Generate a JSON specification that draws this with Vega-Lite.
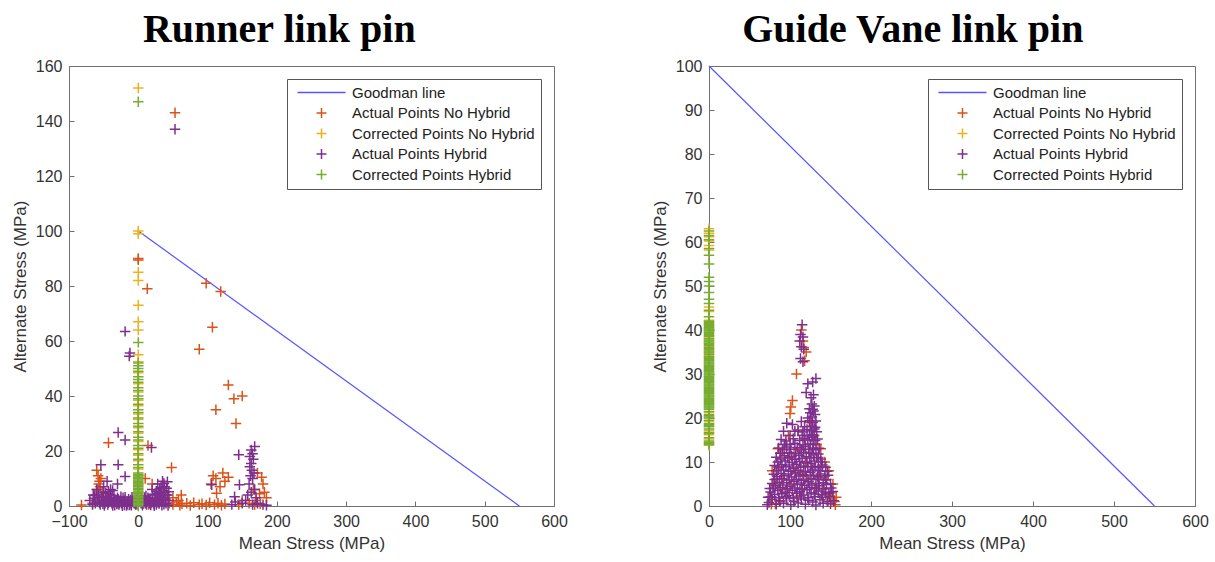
{
"$schema":"https://vega.github.io/schema/vega-lite/v6.json",
"padding":{"left":10,"top":9,"right":2,"bottom":2},
"background":"white",
"config":{
 "font":"Liberation Sans",
 "view":{"stroke":"#707070","strokeWidth":1},
 "axis":{"grid":false,"domainColor":"#707070","tickColor":"#707070","tickSize":-5,"labelColor":"#333333","titleColor":"#333333","labelFontSize":16,"titleFontSize":17,"titleFontWeight":"normal","labelFont":"Liberation Sans","titleFont":"Liberation Sans","labelPadding":12,"titlePadding":6,"labelFlush":false},
 "legend":{"orient":"top-right","offset":13,"title":null,"labelFont":"Liberation Sans","labelFontSize":15,"labelColor":"#222222","labelLimit":400,"symbolSize":100,"symbolStrokeWidth":1.5,"padding":6,"strokeColor":"#555555","fillColor":"white","rowPadding":3.5,"labelOffset":23,"symbolOffset":21}
},
"spacing":82,
"resolve":{"scale":{"color":"independent"},"legend":{"color":"independent"}},
"hconcat":[
{
 "width":485,"height":440,
 "title":{"text":"Runner link pin","font":"Liberation Serif","fontSize":40,"fontWeight":"bold","color":"#000000","frame":"bounds","anchor":"middle","offset":8,"dx":-10},
 "data":{"values":[
{"s":"L","x":0,"y":100},{"s":"L","x":550,"y":0},
{"s":"A","x":53,"y":143},{"s":"A","x":98,"y":81},{"s":"A","x":119,"y":78},{"s":"A","x":13,"y":79},{"s":"A","x":107,"y":65},{"s":"A","x":88,"y":57},{"s":"A","x":130,"y":44},{"s":"A","x":138,"y":39},{"s":"A","x":150,"y":40},{"s":"A","x":112,"y":35},{"s":"A","x":141,"y":30},{"s":"A","x":-43,"y":23},{"s":"A","x":14,"y":22},{"s":"A","x":48,"y":14},{"s":"A","x":-82,"y":0.4},{"s":"A","x":0,"y":90},{"s":"A","x":0,"y":89.5},
{"s":"A","x":-60,"y":13},{"s":"A","x":-58,"y":11},{"s":"A","x":-56,"y":9},{"s":"A","x":-57,"y":8},{"s":"A","x":-55,"y":7},{"s":"A","x":-59,"y":6},{"s":"A","x":-52,"y":5},{"s":"A","x":-54,"y":10},{"s":"A","x":-61,"y":4},{"s":"A","x":-50,"y":3},{"s":"A","x":-63,"y":2},{"s":"A","x":-66,"y":1},
{"s":"A","x":45,"y":1},{"s":"A","x":50,"y":0.5},{"s":"A","x":55,"y":1.5},{"s":"A","x":60,"y":0.3},{"s":"A","x":63,"y":0.8},{"s":"A","x":70,"y":1},{"s":"A","x":75,"y":0.2},{"s":"A","x":80,"y":1.2},{"s":"A","x":88,"y":0.5},{"s":"A","x":92,"y":0.8},{"s":"A","x":98,"y":0.4},{"s":"A","x":103,"y":1.2},{"s":"A","x":110,"y":0.5},{"s":"A","x":115,"y":1},{"s":"A","x":120,"y":0.3},{"s":"A","x":125,"y":0.7},{"s":"A","x":50,"y":3},{"s":"A","x":58,"y":2},{"s":"A","x":62,"y":4},{"s":"A","x":20,"y":8},{"s":"A","x":10,"y":10},{"s":"A","x":35,"y":2},{"s":"A","x":40,"y":4},
{"s":"A","x":108,"y":11},{"s":"A","x":112,"y":10},{"s":"A","x":122,"y":12},{"s":"A","x":130,"y":10.5},{"s":"A","x":118,"y":7},{"s":"A","x":113,"y":4.6},{"s":"A","x":125,"y":9},{"s":"A","x":105,"y":8},
{"s":"A","x":178,"y":10.5},{"s":"A","x":180,"y":8},{"s":"A","x":175,"y":4.5},{"s":"A","x":166,"y":6},{"s":"A","x":185,"y":3},{"s":"A","x":170,"y":2},{"s":"A","x":160,"y":1},{"s":"A","x":172,"y":12},{"s":"A","x":182,"y":5},{"s":"A","x":168,"y":0.5},{"s":"A","x":176,"y":0.8},{"s":"A","x":150,"y":2},{"s":"A","x":145,"y":0.5},
{"s":"A","x":-45,"y":3},{"s":"A","x":-30,"y":1},{"s":"A","x":-20,"y":2},{"s":"A","x":-10,"y":0.5},{"s":"A","x":25,"y":3},{"s":"A","x":30,"y":1},{"s":"A","x":38,"y":5},{"s":"A","x":15,"y":0.5},
{"s":"C","x":0,"y":152},{"s":"C","x":0,"y":100},{"s":"C","x":0,"y":99},{"s":"C","x":0,"y":85},{"s":"C","x":0,"y":82},{"s":"C","x":0,"y":73},{"s":"C","x":0,"y":67},{"s":"C","x":0,"y":64},{"s":"C","x":0,"y":55},{"s":"C","x":0,"y":52.5},{"s":"C","x":0,"y":48.5},{"s":"C","x":0,"y":44.5},{"s":"C","x":0,"y":41.5},{"s":"C","x":0,"y":38.5},{"s":"C","x":0,"y":36.5},{"s":"C","x":0,"y":33.5},{"s":"C","x":0,"y":31.5},{"s":"C","x":0,"y":28.5},{"s":"C","x":0,"y":26.5},{"s":"C","x":0,"y":23.5},{"s":"C","x":0,"y":20.5},{"s":"C","x":0,"y":18.5},{"s":"C","x":0,"y":16.5},{"s":"C","x":0,"y":13.5},{"s":"C","x":0,"y":11},{"s":"C","x":0,"y":8},{"s":"C","x":0,"y":5},{"s":"C","x":0,"y":3},
{"s":"H","x":53,"y":137},{"s":"H","x":-19,"y":63.5},{"s":"H","x":-12,"y":55.6},{"s":"H","x":-13,"y":54.5},{"s":"H","x":-29,"y":26.7},{"s":"H","x":-19,"y":24},{"s":"H","x":19,"y":21.3},{"s":"H","x":-54,"y":15},{"s":"H","x":-29,"y":15},{"s":"H","x":-19,"y":10.7},{"s":"H","x":145,"y":18.6},{"s":"H","x":106,"y":7.7},{"s":"H","x":146,"y":7.7},{"s":"H","x":139,"y":3.4},{"s":"H","x":-30,"y":8},{"s":"H","x":-65,"y":4},{"s":"H","x":-70,"y":2},
{"s":"H","x":168,"y":21.6},{"s":"H","x":163,"y":20.4},{"s":"H","x":165,"y":19},{"s":"H","x":161,"y":18},{"s":"H","x":166,"y":17},{"s":"H","x":163,"y":15.5},{"s":"H","x":161,"y":14.3},{"s":"H","x":164,"y":13},{"s":"H","x":167,"y":12},{"s":"H","x":162,"y":11},{"s":"H","x":165,"y":10},{"s":"H","x":160,"y":8},{"s":"H","x":168,"y":6},{"s":"H","x":163,"y":5},{"s":"H","x":158,"y":4},{"s":"H","x":170,"y":3},{"s":"H","x":155,"y":2},{"s":"H","x":150,"y":1},{"s":"H","x":172,"y":1},{"s":"H","x":165,"y":0.5},{"s":"H","x":180,"y":0.5},
{"s":"H","x":-62,"y":1},{"s":"H","x":-58,"y":3},{"s":"H","x":-55,"y":0.5},{"s":"H","x":-52,"y":2},{"s":"H","x":-50,"y":5},{"s":"H","x":-48,"y":1},{"s":"H","x":-46,"y":3},{"s":"H","x":-44,"y":0.5},{"s":"H","x":-42,"y":2},{"s":"H","x":-40,"y":4},{"s":"H","x":-38,"y":1},{"s":"H","x":-36,"y":2.5},{"s":"H","x":-34,"y":0.3},{"s":"H","x":-32,"y":1.5},{"s":"H","x":-30,"y":3},{"s":"H","x":-28,"y":0.5},{"s":"H","x":-26,"y":2},{"s":"H","x":-24,"y":1},{"s":"H","x":-22,"y":3},{"s":"H","x":-20,"y":0.4},{"s":"H","x":-18,"y":1.8},{"s":"H","x":-16,"y":0.6},{"s":"H","x":-14,"y":2.5},{"s":"H","x":-12,"y":1},{"s":"H","x":-10,"y":0.3},{"s":"H","x":-8,"y":2},{"s":"H","x":-6,"y":1},{"s":"H","x":-4,"y":0.5},{"s":"H","x":4,"y":1},{"s":"H","x":6,"y":0.3},{"s":"H","x":8,"y":2},{"s":"H","x":10,"y":1},{"s":"H","x":12,"y":0.5},{"s":"H","x":14,"y":3},{"s":"H","x":16,"y":1},{"s":"H","x":18,"y":0.4},{"s":"H","x":20,"y":2},{"s":"H","x":22,"y":1},{"s":"H","x":24,"y":4},{"s":"H","x":26,"y":0.5},{"s":"H","x":28,"y":2},{"s":"H","x":30,"y":1},{"s":"H","x":32,"y":5},{"s":"H","x":34,"y":0.3},{"s":"H","x":36,"y":3},{"s":"H","x":38,"y":7},{"s":"H","x":40,"y":1},{"s":"H","x":42,"y":4},{"s":"H","x":44,"y":2},{"s":"H","x":-50,"y":7},{"s":"H","x":-45,"y":9},{"s":"H","x":-60,"y":6},{"s":"H","x":-40,"y":6},{"s":"H","x":28,"y":8},{"s":"H","x":35,"y":9},{"s":"H","x":20,"y":6},{"s":"H","x":135,"y":0.5},{"s":"H","x":140,"y":1.5},{"s":"H","x":185,"y":0.3},{"s":"H","x":-66,"y":0.5},{"s":"H","x":-56,"y":1.2},{"s":"H","x":-47,"y":2.2},{"s":"H","x":-37,"y":0.2},{"s":"H","x":-27,"y":1.1},{"s":"H","x":-17,"y":0.2},{"s":"H","x":-7,"y":1.4},{"s":"H","x":7,"y":0.9},{"s":"H","x":17,"y":2.6},{"s":"H","x":27,"y":1.3},{"s":"H","x":37,"y":0.6},{"s":"H","x":43,"y":0.2},{"s":"H","x":33,"y":2.4},{"s":"H","x":23,"y":0.1},{"s":"H","x":13,"y":1.8},{"s":"H","x":-3,"y":2.3},{"s":"H","x":-23,"y":0.1},{"s":"H","x":-33,"y":2.1},{"s":"H","x":-43,"y":1.3},{"s":"H","x":-53,"y":3.5},
{"s":"H","x":-64,"y":2.8},{"s":"H","x":-49,"y":0.2},{"s":"H","x":-41,"y":3.1},{"s":"H","x":-35,"y":1.2},{"s":"H","x":-25,"y":3.4},{"s":"H","x":-15,"y":1.6},{"s":"H","x":-9,"y":3.2},{"s":"H","x":5,"y":2.7},{"s":"H","x":11,"y":3.6},{"s":"H","x":19,"y":1.3},{"s":"H","x":25,"y":2.2},{"s":"H","x":31,"y":3.3},{"s":"H","x":39,"y":2.5},{"s":"H","x":41,"y":6.5},{"s":"H","x":36,"y":5.5},
{"s":"H","x":-63,"y":3.8},{"s":"H","x":-59,"y":1.8},{"s":"H","x":-57,"y":4.2},{"s":"H","x":-51,"y":0.8},{"s":"H","x":-47,"y":4.6},{"s":"H","x":-45,"y":1.7},{"s":"H","x":-43,"y":5.2},{"s":"H","x":-39,"y":2.8},{"s":"H","x":-37,"y":5.6},{"s":"H","x":-35,"y":3.8},{"s":"H","x":-31,"y":0.7},{"s":"H","x":-29,"y":2.4},{"s":"H","x":-21,"y":1.6},{"s":"H","x":-19,"y":3.2},{"s":"H","x":-13,"y":0.4},{"s":"H","x":-11,"y":2.2},{"s":"H","x":-5,"y":1.9},{"s":"H","x":-2,"y":0.6},{"s":"H","x":3,"y":2.1},{"s":"H","x":9,"y":3.1},{"s":"H","x":15,"y":2.1},{"s":"H","x":21,"y":4.2},{"s":"H","x":29,"y":4.6},{"s":"H","x":33,"y":6.8},{"s":"H","x":37,"y":8.2},{"s":"H","x":39,"y":4.1},{"s":"H","x":42,"y":8.8},{"s":"H","x":44,"y":5.2},{"s":"H","x":31,"y":6.2},{"s":"H","x":26,"y":5.4},
{"s":"G","x":0,"y":147},{"s":"G","x":0,"y":59.5},{"s":"G","x":0,"y":52},{"s":"G","x":0,"y":51},{"s":"G","x":0,"y":50},{"s":"G","x":0,"y":49},{"s":"G","x":0,"y":47},{"s":"G","x":0,"y":46},{"s":"G","x":0,"y":45},{"s":"G","x":0,"y":43},{"s":"G","x":0,"y":42},{"s":"G","x":0,"y":40},{"s":"G","x":0,"y":39},{"s":"G","x":0,"y":37},{"s":"G","x":0,"y":35},{"s":"G","x":0,"y":34},{"s":"G","x":0,"y":32},{"s":"G","x":0,"y":30},{"s":"G","x":0,"y":29},{"s":"G","x":0,"y":27},{"s":"G","x":0,"y":25},{"s":"G","x":0,"y":24},{"s":"G","x":0,"y":22},{"s":"G","x":0,"y":21},{"s":"G","x":0,"y":19},{"s":"G","x":0,"y":17},{"s":"G","x":0,"y":15},{"s":"G","x":0,"y":14},{"s":"G","x":0,"y":12},{"s":"G","x":0,"y":11.5},{"s":"G","x":0,"y":11},{"s":"G","x":0,"y":10.5},{"s":"G","x":0,"y":10},{"s":"G","x":0,"y":9.5},{"s":"G","x":0,"y":9},{"s":"G","x":0,"y":8.5},{"s":"G","x":0,"y":8},{"s":"G","x":0,"y":7.5},{"s":"G","x":0,"y":7},{"s":"G","x":0,"y":6.5},{"s":"G","x":0,"y":6},{"s":"G","x":0,"y":5.5},{"s":"G","x":0,"y":5},{"s":"G","x":0,"y":4.5},{"s":"G","x":0,"y":4},{"s":"G","x":0,"y":3.5},{"s":"G","x":0,"y":3},{"s":"G","x":0,"y":2.5},{"s":"G","x":0,"y":2},{"s":"G","x":0,"y":1.5},{"s":"G","x":0,"y":1},{"s":"G","x":0,"y":0.5},{"s":"G","x":0,"y":0}
 ]},
 "layer":[
  {"transform":[{"filter":"datum.s=='L'"}],"mark":{"type":"line","strokeWidth":1.2},
   "encoding":{"x":{"field":"x","type":"quantitative","scale":{"domain":[-100,600],"nice":false},"axis":{"title":"Mean Stress (MPa)","values":[-100,0,100,200,300,400,500,600]}},
    "y":{"field":"y","type":"quantitative","scale":{"domain":[0,160],"nice":false},"axis":{"title":"Alternate Stress (MPa)","values":[0,20,40,60,80,100,120,140,160]}},
    "color":{"field":"s","type":"nominal","scale":{"domain":["L","A","C","H","G"],"range":["#5555ff","#D95319","#EDB120","#7E2F8E","#77AC30"]},
     "legend":{"labelExpr":"{'L':'Goodman line','A':'Actual Points No Hybrid','C':'Corrected Points No Hybrid','H':'Actual Points Hybrid','G':'Corrected Points Hybrid'}[datum.value]",
      "encode":{"symbols":{"update":{"shape":{"signal":"datum.value=='L' ? 'M-4.8,0H4.8' : 'M-1,0H1M0,-1V1'"},"fill":{"value":"transparent"},"strokeWidth":{"value":1.5},"opacity":{"value":1}}}}}}}},
  {"transform":[{"filter":"datum.s!='L'"}],"mark":{"type":"point","shape":"M-1,0H1M0,-1V1","filled":false,"size":110,"strokeWidth":1.5,"opacity":1},
   "encoding":{"x":{"field":"x","type":"quantitative"},"y":{"field":"y","type":"quantitative"},
    "color":{"field":"s","type":"nominal"}}}
 ]
},
{
 "width":486,"height":440,
 "title":{"text":"Guide Vane link pin","font":"Liberation Serif","fontSize":40,"fontWeight":"bold","color":"#000000","frame":"bounds","anchor":"middle","offset":8,"dx":-17},
 "data":{"values":[
{"s":"L","x":0,"y":100},{"s":"L","x":550,"y":0},
{"s":"A","x":100,"y":21},{"s":"A","x":103,"y":24},{"s":"A","x":101,"y":22.5},{"s":"A","x":108,"y":30},{"s":"A","x":118,"y":33},{"s":"A","x":117,"y":36},{"s":"A","x":116,"y":37.5},{"s":"A","x":114,"y":40},{"s":"A","x":120,"y":35},{"s":"A","x":75,"y":2},{"s":"A","x":80,"y":5},{"s":"A","x":85,"y":9},{"s":"A","x":90,"y":12},{"s":"A","x":95,"y":14},{"s":"A","x":99,"y":11},{"s":"A","x":106,"y":8},{"s":"A","x":112,"y":13},{"s":"A","x":118,"y":15},{"s":"A","x":124,"y":12},{"s":"A","x":130,"y":16},{"s":"A","x":135,"y":11},{"s":"A","x":140,"y":9},{"s":"A","x":145,"y":6},{"s":"A","x":150,"y":3},{"s":"A","x":155,"y":1},{"s":"A","x":157,"y":2},{"s":"A","x":153,"y":5},{"s":"A","x":148,"y":8},{"s":"A","x":143,"y":10},{"s":"A","x":138,"y":13},{"s":"A","x":133,"y":14},{"s":"A","x":127,"y":9},{"s":"A","x":122,"y":6},{"s":"A","x":115,"y":4},{"s":"A","x":109,"y":2},{"s":"A","x":102,"y":5},{"s":"A","x":96,"y":3},{"s":"A","x":88,"y":1},{"s":"A","x":82,"y":0.5},{"s":"A","x":78,"y":8},{"s":"A","x":92,"y":6},{"s":"A","x":110,"y":17},{"s":"A","x":105,"y":12},{"s":"A","x":125,"y":19},{"s":"A","x":140,"y":4},{"s":"A","x":147,"y":1},{"s":"A","x":98,"y":16},{"s":"A","x":85,"y":13},{"s":"A","x":156,"y":0.3},{"s":"A","x":152,"y":1.8},{"s":"A","x":144,"y":2.5},{"s":"A","x":136,"y":6.5},{"s":"A","x":131,"y":4.2},{"s":"A","x":119,"y":10},{"s":"A","x":113,"y":7.5},{"s":"A","x":91,"y":3.8},{"s":"A","x":84,"y":6.2},{"s":"A","x":77,"y":0.4},
{"s":"C","x":0,"y":63},{"s":"C","x":0,"y":62},{"s":"C","x":0,"y":61.2},{"s":"C","x":0,"y":60.2},{"s":"C","x":0,"y":59.2},{"s":"C","x":0,"y":58.2},{"s":"C","x":0,"y":45.2},{"s":"C","x":0,"y":44.2},{"s":"C","x":0,"y":42.2},{"s":"C","x":0,"y":40.2},{"s":"C","x":0,"y":38.2},{"s":"C","x":0,"y":36.2},{"s":"C","x":0,"y":34.2},{"s":"C","x":0,"y":21.2},{"s":"C","x":0,"y":19.2},{"s":"C","x":0,"y":17.2},{"s":"C","x":0,"y":16.2},{"s":"C","x":0,"y":15.2},{"s":"C","x":0,"y":13.8},
{"s":"H","x":74,"y":0.8},{"s":"H","x":78,"y":1.5},{"s":"H","x":83,"y":0.4},{"s":"H","x":87,"y":1.2},{"s":"H","x":92,"y":0.6},{"s":"H","x":96,"y":1.8},{"s":"H","x":101,"y":0.3},{"s":"H","x":105,"y":1.1},{"s":"H","x":110,"y":0.7},{"s":"H","x":114,"y":1.6},{"s":"H","x":119,"y":0.4},{"s":"H","x":123,"y":1.3},{"s":"H","x":128,"y":0.9},{"s":"H","x":132,"y":0.2},{"s":"H","x":137,"y":1.4},{"s":"H","x":141,"y":0.6},{"s":"H","x":146,"y":1.0},{"s":"H","x":150,"y":0.5},{"s":"H","x":154,"y":1.2},
{"s":"H","x":76,"y":3.2},{"s":"H","x":81,"y":2.6},{"s":"H","x":85,"y":3.5},{"s":"H","x":90,"y":2.8},{"s":"H","x":94,"y":3.1},{"s":"H","x":99,"y":2.4},{"s":"H","x":103,"y":3.6},{"s":"H","x":108,"y":2.9},{"s":"H","x":112,"y":3.3},{"s":"H","x":117,"y":2.5},{"s":"H","x":121,"y":3.7},{"s":"H","x":126,"y":3.0},{"s":"H","x":130,"y":2.7},{"s":"H","x":135,"y":3.4},{"s":"H","x":139,"y":2.6},{"s":"H","x":144,"y":3.1},{"s":"H","x":148,"y":2.8},{"s":"H","x":153,"y":3.3},
{"s":"H","x":78,"y":5.1},{"s":"H","x":82,"y":4.6},{"s":"H","x":87,"y":5.4},{"s":"H","x":91,"y":4.8},{"s":"H","x":96,"y":5.3},{"s":"H","x":100,"y":4.5},{"s":"H","x":105,"y":5.6},{"s":"H","x":109,"y":4.9},{"s":"H","x":114,"y":5.2},{"s":"H","x":118,"y":4.7},{"s":"H","x":123,"y":5.5},{"s":"H","x":127,"y":4.8},{"s":"H","x":132,"y":5.1},{"s":"H","x":136,"y":4.6},{"s":"H","x":141,"y":5.3},{"s":"H","x":145,"y":4.9},{"s":"H","x":150,"y":5.0},
{"s":"H","x":80,"y":7.2},{"s":"H","x":84,"y":6.7},{"s":"H","x":89,"y":7.4},{"s":"H","x":93,"y":6.9},{"s":"H","x":98,"y":7.3},{"s":"H","x":102,"y":6.6},{"s":"H","x":107,"y":7.5},{"s":"H","x":111,"y":6.8},{"s":"H","x":116,"y":7.1},{"s":"H","x":120,"y":6.9},{"s":"H","x":125,"y":7.6},{"s":"H","x":129,"y":7.0},{"s":"H","x":134,"y":6.7},{"s":"H","x":138,"y":7.3},{"s":"H","x":143,"y":6.8},{"s":"H","x":147,"y":7.0},
{"s":"H","x":81,"y":9.2},{"s":"H","x":86,"y":8.7},{"s":"H","x":90,"y":9.4},{"s":"H","x":95,"y":8.9},{"s":"H","x":99,"y":9.3},{"s":"H","x":104,"y":8.6},{"s":"H","x":108,"y":9.5},{"s":"H","x":113,"y":8.8},{"s":"H","x":117,"y":9.1},{"s":"H","x":122,"y":8.9},{"s":"H","x":126,"y":9.6},{"s":"H","x":131,"y":9.0},{"s":"H","x":135,"y":8.7},{"s":"H","x":140,"y":9.3},{"s":"H","x":144,"y":8.8},
{"s":"H","x":83,"y":11.1},{"s":"H","x":88,"y":10.7},{"s":"H","x":93,"y":11.4},{"s":"H","x":97,"y":10.9},{"s":"H","x":102,"y":11.3},{"s":"H","x":106,"y":10.6},{"s":"H","x":111,"y":11.5},{"s":"H","x":115,"y":10.8},{"s":"H","x":120,"y":11.2},{"s":"H","x":124,"y":10.9},{"s":"H","x":129,"y":11.6},{"s":"H","x":133,"y":11.0},{"s":"H","x":138,"y":10.7},
{"s":"H","x":86,"y":13.2},{"s":"H","x":91,"y":12.8},{"s":"H","x":96,"y":13.4},{"s":"H","x":101,"y":12.9},{"s":"H","x":109,"y":13.3},{"s":"H","x":114,"y":12.7},{"s":"H","x":119,"y":13.5},{"s":"H","x":123,"y":12.9},{"s":"H","x":128,"y":13.2},{"s":"H","x":132,"y":12.8},{"s":"H","x":136,"y":13.1},
{"s":"H","x":89,"y":15.1},{"s":"H","x":95,"y":14.8},{"s":"H","x":104,"y":15.3},{"s":"H","x":112,"y":14.9},{"s":"H","x":118,"y":15.4},{"s":"H","x":122,"y":15.0},{"s":"H","x":127,"y":15.6},{"s":"H","x":131,"y":14.9},{"s":"H","x":134,"y":15.2},
{"s":"H","x":92,"y":17.0},{"s":"H","x":110,"y":17.3},{"s":"H","x":116,"y":16.8},{"s":"H","x":121,"y":17.4},{"s":"H","x":126,"y":17.1},{"s":"H","x":130,"y":17.5},{"s":"H","x":133,"y":16.9},
{"s":"H","x":96,"y":18.8},{"s":"H","x":114,"y":19.2},{"s":"H","x":124,"y":19.4},{"s":"H","x":128,"y":19.0},{"s":"H","x":132,"y":19.3},
{"s":"H","x":125,"y":21.2},{"s":"H","x":129,"y":21.6},{"s":"H","x":131,"y":20.8},{"s":"H","x":103,"y":18.5},{"s":"H","x":127,"y":23.2},{"s":"H","x":130,"y":22.7},{"s":"H","x":129,"y":25.3},{"s":"H","x":120,"y":25.8},{"s":"H","x":126,"y":24.6},{"s":"H","x":128,"y":28.2},{"s":"H","x":132,"y":29.0},{"s":"H","x":122,"y":27.8},
{"s":"H","x":113,"y":33.5},{"s":"H","x":116,"y":32.8},{"s":"H","x":114,"y":36.2},{"s":"H","x":117,"y":35.6},{"s":"H","x":113,"y":39.0},{"s":"H","x":116,"y":38.4},{"s":"H","x":115,"y":41.2},{"s":"H","x":112,"y":37.5},{"s":"H","x":72,"y":0.3},{"s":"H","x":73,"y":2},{"s":"H","x":75,"y":4},{"s":"H","x":106,"y":17},{"s":"H","x":100,"y":14},
{"s":"H","x":77,"y":2.1},{"s":"H","x":86,"y":1.9},{"s":"H","x":95,"y":2.2},{"s":"H","x":104,"y":1.8},{"s":"H","x":113,"y":2.3},{"s":"H","x":122,"y":1.9},{"s":"H","x":131,"y":2.1},{"s":"H","x":140,"y":2.0},{"s":"H","x":149,"y":2.2},
{"s":"H","x":79,"y":4.0},{"s":"H","x":88,"y":4.2},{"s":"H","x":97,"y":3.9},{"s":"H","x":106,"y":4.1},{"s":"H","x":115,"y":3.8},{"s":"H","x":124,"y":4.2},{"s":"H","x":133,"y":4.0},{"s":"H","x":142,"y":3.9},{"s":"H","x":151,"y":4.1},
{"s":"H","x":81,"y":6.0},{"s":"H","x":90,"y":6.2},{"s":"H","x":99,"y":5.9},{"s":"H","x":108,"y":6.1},{"s":"H","x":117,"y":5.8},{"s":"H","x":126,"y":6.2},{"s":"H","x":135,"y":6.0},{"s":"H","x":144,"y":5.9},
{"s":"H","x":83,"y":8.0},{"s":"H","x":92,"y":8.2},{"s":"H","x":101,"y":7.9},{"s":"H","x":110,"y":8.1},{"s":"H","x":119,"y":7.8},{"s":"H","x":128,"y":8.2},{"s":"H","x":137,"y":8.0},{"s":"H","x":146,"y":7.9},
{"s":"H","x":85,"y":10.0},{"s":"H","x":94,"y":10.2},{"s":"H","x":103,"y":9.9},{"s":"H","x":112,"y":10.1},{"s":"H","x":121,"y":9.8},{"s":"H","x":130,"y":10.2},{"s":"H","x":139,"y":10.0},
{"s":"H","x":88,"y":12.0},{"s":"H","x":99,"y":12.1},{"s":"H","x":107,"y":11.9},{"s":"H","x":117,"y":12.2},{"s":"H","x":126,"y":12.0},{"s":"H","x":135,"y":11.8},
{"s":"H","x":93,"y":14.0},{"s":"H","x":106,"y":14.2},{"s":"H","x":116,"y":13.9},{"s":"H","x":125,"y":14.1},{"s":"H","x":129,"y":14.0},
{"s":"H","x":100,"y":16.0},{"s":"H","x":115,"y":16.1},{"s":"H","x":124,"y":15.9},{"s":"H","x":128,"y":16.2},
{"s":"H","x":118,"y":18.0},{"s":"H","x":127,"y":18.1},{"s":"H","x":131,"y":17.9},{"s":"H","x":122,"y":20.0},{"s":"H","x":127,"y":20.2},{"s":"H","x":128,"y":22.0},{"s":"H","x":124,"y":22.1},
{"s":"G","x":0,"y":62.5},{"s":"G","x":0,"y":61.5},{"s":"G","x":0,"y":60.5},{"s":"G","x":0,"y":58.5},{"s":"G","x":0,"y":57},{"s":"G","x":0,"y":55},{"s":"G","x":0,"y":52},{"s":"G","x":0,"y":51},{"s":"G","x":0,"y":50},{"s":"G","x":0,"y":48.5},{"s":"G","x":0,"y":47},{"s":"G","x":0,"y":46},{"s":"G","x":0,"y":44.5},{"s":"G","x":0,"y":43},
{"s":"G","x":0,"y":42},{"s":"G","x":0,"y":41.5},{"s":"G","x":0,"y":41},{"s":"G","x":0,"y":40.5},{"s":"G","x":0,"y":40},{"s":"G","x":0,"y":39.5},{"s":"G","x":0,"y":39},{"s":"G","x":0,"y":38.5},{"s":"G","x":0,"y":38},{"s":"G","x":0,"y":37.5},{"s":"G","x":0,"y":37},{"s":"G","x":0,"y":36.5},{"s":"G","x":0,"y":36},{"s":"G","x":0,"y":35.5},{"s":"G","x":0,"y":35},{"s":"G","x":0,"y":34.5},{"s":"G","x":0,"y":34},{"s":"G","x":0,"y":33.5},{"s":"G","x":0,"y":33},{"s":"G","x":0,"y":32.5},{"s":"G","x":0,"y":32},{"s":"G","x":0,"y":31.5},{"s":"G","x":0,"y":31},{"s":"G","x":0,"y":30.5},{"s":"G","x":0,"y":30},{"s":"G","x":0,"y":29.5},{"s":"G","x":0,"y":29},{"s":"G","x":0,"y":28.5},{"s":"G","x":0,"y":28},{"s":"G","x":0,"y":27.5},{"s":"G","x":0,"y":27},{"s":"G","x":0,"y":26.5},{"s":"G","x":0,"y":26},{"s":"G","x":0,"y":25.5},{"s":"G","x":0,"y":25},{"s":"G","x":0,"y":24.5},{"s":"G","x":0,"y":24},{"s":"G","x":0,"y":23.5},{"s":"G","x":0,"y":23},{"s":"G","x":0,"y":22.5},{"s":"G","x":0,"y":22},{"s":"G","x":0,"y":21.5},{"s":"G","x":0,"y":20.5},{"s":"G","x":0,"y":20},{"s":"G","x":0,"y":19.5},{"s":"G","x":0,"y":18.5},{"s":"G","x":0,"y":18},{"s":"G","x":0,"y":17.5},{"s":"G","x":0,"y":16.5},{"s":"G","x":0,"y":15.5},{"s":"G","x":0,"y":14.5},{"s":"G","x":0,"y":14},
{"s":"G","x":0,"y":41.75},{"s":"G","x":0,"y":41.25},{"s":"G","x":0,"y":40.75},{"s":"G","x":0,"y":40.25},{"s":"G","x":0,"y":39.75},{"s":"G","x":0,"y":39.25},{"s":"G","x":0,"y":38.75},{"s":"G","x":0,"y":37.75},{"s":"G","x":0,"y":37.25},{"s":"G","x":0,"y":36.75},{"s":"G","x":0,"y":35.75},{"s":"G","x":0,"y":35.25},{"s":"G","x":0,"y":34.75},{"s":"G","x":0,"y":33.75},{"s":"G","x":0,"y":33.25},{"s":"G","x":0,"y":32.75},{"s":"G","x":0,"y":32.25},{"s":"G","x":0,"y":31.75},{"s":"G","x":0,"y":31.25},{"s":"G","x":0,"y":30.75},{"s":"G","x":0,"y":30.25},{"s":"G","x":0,"y":29.75},{"s":"G","x":0,"y":29.25},{"s":"G","x":0,"y":28.75},{"s":"G","x":0,"y":28.25},{"s":"G","x":0,"y":27.75},{"s":"G","x":0,"y":27.25},{"s":"G","x":0,"y":26.75},{"s":"G","x":0,"y":26.25},{"s":"G","x":0,"y":25.75},{"s":"G","x":0,"y":25.25},{"s":"G","x":0,"y":24.75},{"s":"G","x":0,"y":24.25},{"s":"G","x":0,"y":23.75},{"s":"G","x":0,"y":23.25},{"s":"G","x":0,"y":22.75},{"s":"G","x":0,"y":22.25},{"s":"G","x":0,"y":20.75},{"s":"G","x":0,"y":20.25},{"s":"G","x":0,"y":18.75},{"s":"G","x":0,"y":18.25},{"s":"G","x":0,"y":16.75},{"s":"G","x":0,"y":14.75},{"s":"G","x":0,"y":14.25}
 ]},
 "layer":[
  {"transform":[{"filter":"datum.s=='L'"}],"mark":{"type":"line","strokeWidth":1.2},
   "encoding":{"x":{"field":"x","type":"quantitative","scale":{"domain":[0,600],"nice":false},"axis":{"title":"Mean Stress (MPa)","values":[0,100,200,300,400,500,600]}},
    "y":{"field":"y","type":"quantitative","scale":{"domain":[0,100],"nice":false},"axis":{"title":"Alternate Stress (MPa)","values":[0,10,20,30,40,50,60,70,80,90,100]}},
    "color":{"field":"s","type":"nominal","scale":{"domain":["L","A","C","H","G"],"range":["#5555ff","#D95319","#EDB120","#7E2F8E","#77AC30"]},
     "legend":{"labelExpr":"{'L':'Goodman line','A':'Actual Points No Hybrid','C':'Corrected Points No Hybrid','H':'Actual Points Hybrid','G':'Corrected Points Hybrid'}[datum.value]",
      "encode":{"symbols":{"update":{"shape":{"signal":"datum.value=='L' ? 'M-4.8,0H4.8' : 'M-1,0H1M0,-1V1'"},"fill":{"value":"transparent"},"strokeWidth":{"value":1.5},"opacity":{"value":1}}}}}}}},
  {"transform":[{"filter":"datum.s!='L'"}],"mark":{"type":"point","shape":"M-1,0H1M0,-1V1","filled":false,"size":110,"strokeWidth":1.5,"opacity":1},
   "encoding":{"x":{"field":"x","type":"quantitative"},"y":{"field":"y","type":"quantitative"},
    "color":{"field":"s","type":"nominal"}}}
 ]
}
]
}
